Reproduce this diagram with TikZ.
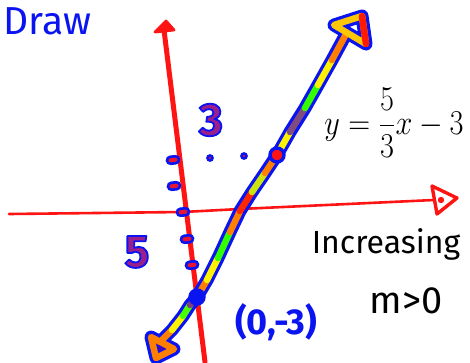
\documentclass[tikz,border=0pt]{standalone}
\usepackage{amsmath}
\usepackage{graphicx}
\usepackage{fontspec}
\setmainfont{Fira Sans}
\usepackage{tikz}
\usetikzlibrary{positioning,calc}
\definecolor{penblue}{HTML}{0A14F0}
\definecolor{penred}{HTML}{FF1414}
\definecolor{penplum}{HTML}{9A1E8C}
\newcommand{\penoutline}[1]{{\color{penplum}\special{pdf:literal direct q 0.04 0.08 0.94 RG 1.8 w 1 j 2 Tr}#1\special{pdf:literal direct Q}}}
\tikzset{
  axis/.style={draw=penred,line width=5pt,line cap=round,line join=round},
  haxis/.style={draw=penred,line width=2.6pt,line cap=round,line join=round},
  tickmark/.style={draw=penblue,fill=penred!75!penplum,line width=2.6pt,rounded corners=3.5pt,minimum width=12pt,minimum height=7pt,inner sep=0pt,rotate=6},
  dotmark/.style={circle,draw=penblue,fill=penred,line width=2.6pt,minimum size=5pt,inner sep=0pt},
  bigdot/.style={dotmark,minimum size=14pt,line width=3.4pt,fill=penblue},
  edge/.style={draw=penblue,line width=13pt,line cap=round,line join=round},
  core/.style={line width=6.5pt,line cap=round,line join=round},
  pen/.style={text=penblue,inner sep=0pt},
  digit/.style={inner sep=0pt,font=\fontsize{46}{46}\selectfont\bfseries},
  ink/.style={text=black,inner sep=0pt}
}

\begin{document}
\begin{tikzpicture}[x=1pt,y=-1pt]
  \useasboundingbox[fill=white] (0,0) rectangle (470,362);

  % axes
  \coordinate (yTop) at (164,30);
  \coordinate (yBot) at (205,362);
  \coordinate (xLeft) at (9,214);
  \coordinate (xMid) at (183,212);
  \coordinate (xRight) at (434,200);
  \draw[axis] (yTop) -- (yBot);
  \draw[axis,fill=penred,line width=2.8pt] (155,32) -- (166,21) -- (174,30) -- cycle;
  \draw[haxis] (xLeft) -- (xMid) -- (240,209) -- (xRight);
  \draw[haxis,line width=3.4pt] (432,186) -- (457,198) -- (437,214) -- cycle;
  \fill[penred] (441,200) circle (3.2pt);

  % rise / run marks
  \node[tickmark] (tickA) at (173,160) {};
  \node[tickmark] (tickB) at (174,186) {};
  \node[tickmark] (tickC) at (183,212) {};
  \node[tickmark] (tickD) at (187,239) {};
  \node[tickmark] (tickE) at (192,265) {};
  \node[dotmark] (runA) at (210,158) {};
  \node[dotmark] (runB) at (244,156) {};

  % the line y = 5/3 x - 3
  \foreach \n/\x/\y in {0/160/342,1/172/330,2/183/316,3/190/305,4/197/297,5/207/280,6/218/258,7/230/232,8/240/211,9/252/192,10/265/173,11/277/155,12/290/132,13/305/108,14/318/85,15/332/60,16/345/36}
    \coordinate (p\n) at (\x,\y);
  \draw[edge] (p0) -- (p1) -- (p2) -- (p3) -- (p4) -- (p5) -- (p6) -- (p7) -- (p8) -- (p9) -- (p10) -- (p11) -- (p12) -- (p13) -- (p14) -- (p15) -- (p16);
  \draw[edge] (151,337) -- (156,358) -- (174,349) -- cycle;
  \draw[edge] (334,25) -- (362,16) -- (366,44) -- cycle;
  \foreach \a/\b/\c in {p0/p1/orange,p1/p2/yellow,p2/p3/green!70!yellow,p3/p4/violet!50!gray,p4/p5/orange,p5/p6/yellow,p6/p7/green!80!yellow,p7/p8/orange,p8/p9/red!70!orange,p9/p10/yellow!80!green,p10/p11/orange,p11/p12/yellow,p12/p13/violet!40!gray,p13/p14/green!80!yellow,p14/p15/yellow,p15/p16/orange}
    \draw[core,draw=\c] (\a) -- (\b);
  \draw[core,draw=orange] (151,337) -- (156,358) -- (174,349) -- cycle;
  \fill[violet!60!blue] (159,345) -- (159,351) -- (165,349) -- cycle;
  \draw[core,draw=yellow!60!orange] (334,25) -- (362,16) -- (366,44) -- cycle;
  \draw[core,draw=red!80!orange] (362,16) -- (366,44);
  \node[bigdot] (yint) at (197,297) {};
  \node[bigdot,fill=penred] (point) at (277,155) {};

  % labels
  \node[pen,anchor=north west,font=\fontsize{39}{39}\selectfont] (drawTitle) at (3,7) {Draw};
  \node[digit] (riseLabel) at (211,120) {\penoutline{3}};
  \node[digit] (runLabel) at (137,252) {\penoutline{5}};
  \node[ink,font=\fontsize{24}{24}\selectfont] (eqLabel) at (394,123) {\scalebox{1.22}[1.4]{$y=\dfrac{5}{3}x-3$}};
  \node[ink,font=\fontsize{32}{32}\selectfont] (trendLabel) at (386,244) {Increasing};
  \node[ink,font=\fontsize{38}{38}\selectfont] (slopeLabel) at (406,301) {m>0};
  \node[pen,font=\fontsize{36}{36}\selectfont\bfseries] (interceptLabel) at (276,322) {(0,-3)};
\end{tikzpicture}
\end{document}
